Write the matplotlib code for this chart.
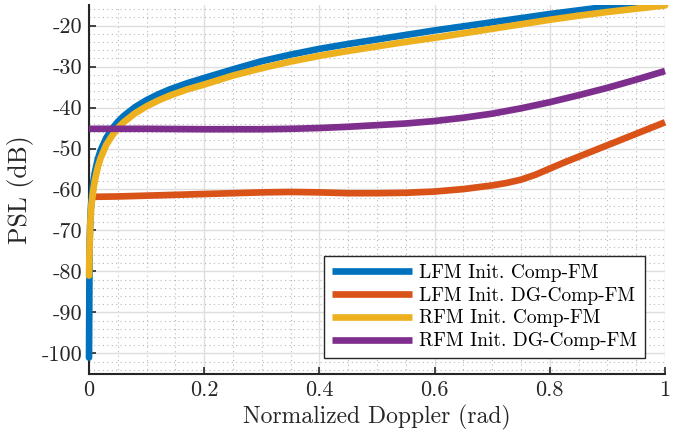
import numpy as np
import matplotlib
matplotlib.use('Agg')
import matplotlib.pyplot as plt
from matplotlib.ticker import MultipleLocator, FuncFormatter
from matplotlib.transforms import Bbox, TransformedBbox

plt.rcParams['font.family'] = ['cmr10', 'DejaVu Serif']
plt.rcParams['mathtext.fontset'] = 'cm'
plt.rcParams['axes.unicode_minus'] = False
plt.rcParams['axes.formatter.use_mathtext'] = True

# Normalized Doppler (rad) sample points and PSL (dB)
lfm_comp_x = [0, 0.001, 0.002, 0.003, 0.004, 0.006, 0.008, 0.01, 0.015, 0.02, 0.03,
              0.04, 0.05, 0.06, 0.08, 0.1, 0.12, 0.14, 0.17, 0.2, 0.25, 0.3, 0.35,
              0.4, 0.45, 0.5, 0.55, 0.6, 0.65, 0.7, 0.75, 0.8, 0.85, 0.9, 0.95, 1.0]
lfm_comp_y = [-101, -73, -68.5, -65.1, -62.9, -59.8, -57.6, -55.9, -52.7, -50.5, -47.4,
              -45.2, -43.5, -42.1, -39.9, -38.2, -36.8, -35.6, -34.1, -32.8, -30.7, -28.7, -27.1,
              -25.7, -24.5, -23.4, -22.3, -21.2, -20.2, -19.2, -18.2, -17.2, -16.3, -15.4, -14.6, -13.8]

lfm_dg_x = [0, 0.05, 0.1, 0.15, 0.2, 0.25, 0.3, 0.35, 0.4, 0.45, 0.5, 0.55, 0.6, 0.65,
            0.7, 0.725, 0.75, 0.775, 0.8, 0.825, 0.85, 0.9, 0.95, 1.0]
lfm_dg_y = [-61.8, -61.7, -61.5, -61.3, -61.1, -60.9, -60.7, -60.6, -60.7, -60.9, -60.9,
            -60.8, -60.5, -59.9, -59.0, -58.4, -57.6, -56.4, -54.9, -53.4, -52.0, -49.2,
            -46.4, -43.6]

rfm_comp_x = [0, 0.001, 0.002, 0.003, 0.004, 0.006, 0.008, 0.01, 0.015, 0.02, 0.03,
              0.04, 0.05, 0.06, 0.08, 0.1, 0.12, 0.14, 0.17, 0.2, 0.25, 0.3, 0.35,
              0.4, 0.45, 0.5, 0.55, 0.6, 0.65, 0.7, 0.75, 0.8, 0.85, 0.9, 0.95, 1.0]
rfm_comp_y = [-81, -74, -69, -66, -64, -61.8, -59.6, -57.9, -54.7, -52.4, -49.1,
              -46.9, -45.0, -43.6, -41.4, -39.7, -38.3, -37.1, -35.6, -34.4, -32.2, -30.4, -28.8,
              -27.4, -26.2, -25.1, -24.0, -23.0, -21.9, -20.8, -19.7, -18.6, -17.6, -16.7, -15.9, -15.1]

rfm_dg_x = [0, 0.1, 0.2, 0.3, 0.35, 0.4, 0.45, 0.5, 0.55, 0.6, 0.65, 0.7, 0.75, 0.8,
            0.85, 0.9, 0.95, 1.0]
rfm_dg_y = [-45.2, -45.2, -45.3, -45.3, -45.2, -45.0, -44.7, -44.3, -43.9, -43.3, -42.5,
            -41.5, -40.2, -38.7, -37.0, -35.2, -33.2, -31.1]

labels = ['LFM Init. Comp-FM', 'LFM Init. DG-Comp-FM',
          'RFM Init. Comp-FM', 'RFM Init. DG-Comp-FM']
colors = ['#0072BD', '#D95319', '#EDB120', '#7E2F8E']
caps = ['round', 'butt', 'round', 'butt']

fig = plt.figure(figsize=(6.89, 4.32), dpi=100)
ax = fig.add_axes([0.1292, 0.1343, 0.8360, 0.8541])

# clip only at the top so line width is not cut off at x = 0 / x = 1
clip = TransformedBbox(Bbox([[-0.03, -0.05], [1.03, 1.0]]), ax.transAxes)

series = [(lfm_comp_x, lfm_comp_y), (lfm_dg_x, lfm_dg_y),
          (rfm_comp_x, rfm_comp_y), (rfm_dg_x, rfm_dg_y)]
for (xs, ys), lab, c, cap in zip(series, labels, colors, caps):
    ln, = ax.plot(xs, ys, color=c, linewidth=4.8, label=lab,
                  solid_capstyle=cap, solid_joinstyle='round', zorder=3)
    ln.set_clip_box(clip)

ax.set_xlim(0, 1)
ax.set_ylim(-105, -15)

ax.xaxis.set_major_locator(MultipleLocator(0.2))
ax.xaxis.set_minor_locator(MultipleLocator(0.05))
ax.yaxis.set_major_locator(MultipleLocator(10))
ax.yaxis.set_minor_locator(MultipleLocator(2))
ax.xaxis.set_major_formatter(FuncFormatter(lambda v, p: f'{v:g}'))
ax.yaxis.set_major_formatter(FuncFormatter(lambda v, p: f'{v:g}'))

ax.grid(True, which='major', color='#dedede', linewidth=1.0, zorder=0)
ax.grid(True, which='minor', color='#b8b8b8', linewidth=0.8,
        linestyle=(0, (1, 3)), zorder=0)
ax.set_axisbelow(True)

ax.tick_params(which='major', direction='in', length=5, width=1.2,
               labelsize=16, color='#262626', labelcolor='#262626', pad=5)
ax.tick_params(which='minor', length=0)

for side in ['top', 'right']:
    ax.spines[side].set_visible(False)
for side in ['left', 'bottom']:
    ax.spines[side].set_linewidth(1.5)
    ax.spines[side].set_color('#262626')

ax.set_xlabel('Normalized Doppler (rad)', fontsize=17, color='#262626', labelpad=3)
ax.set_ylabel('PSL (dB)', fontsize=18.5, color='#262626', labelpad=5)

leg = ax.legend(loc='lower left', bbox_to_anchor=(0.408, 0.043, 0.557, 0.3),
                mode='expand', fontsize=14,
                handlelength=4.1, handletextpad=0.4, labelspacing=0.25,
                borderpad=0.4, borderaxespad=0, fancybox=False, framealpha=1,
                edgecolor='#262626')
leg.get_frame().set_linewidth(1.0)
for line in leg.get_lines():
    line.set_solid_capstyle('butt')

fig.savefig('out.png', dpi=100)
